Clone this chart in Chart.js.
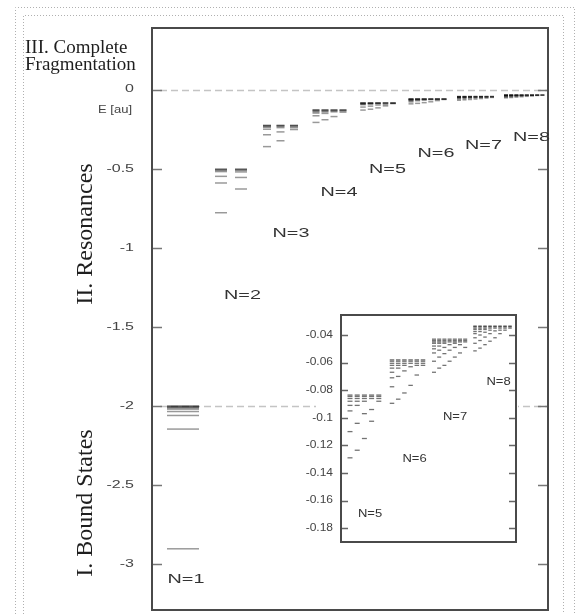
<!DOCTYPE html>
<html>
<head>
<meta charset="utf-8">
<script src="https://cdn.jsdelivr.net/npm/chart.js@4.4.1/dist/chart.umd.min.js"></script>
<style>
    html, body { margin: 0; padding: 0; background: #fff; }
    #wrap { position: relative; width: 577px; height: 614px; overflow: hidden; }
    #main { position: absolute; left: 0; top: 0; }
    #inset { position: absolute; left: 296px; top: 305px; }
</style>
</head>
<body>
<div id="wrap">
    <canvas id="main" width="577" height="614"></canvas>
    <canvas id="inset" width="226" height="245"></canvas>
</div>
<script>
// helium levels in atomic units, one inner array per column of each shell
const shellNames = ["N=1", "N=2", "N=3", "N=4", "N=5", "N=6", "N=7", "N=8"];

const levelsN1 = [[-2.0, -2.003, -2.007, -2.012, -2.02, -2.035, -2.06, -2.146, -2.903]];
const levelsN2 = [
    [-0.502, -0.505, -0.51, -0.518, -0.548, -0.59, -0.778],
    [-0.502, -0.505, -0.51, -0.52, -0.555, -0.628],
];
const levelsN3 = [
    [-0.225, -0.228, -0.232, -0.238, -0.25, -0.285, -0.36],
    [-0.225, -0.228, -0.232, -0.24, -0.267, -0.323],
    [-0.225, -0.228, -0.232, -0.24, -0.252],
];
const levelsN4 = [
    [-0.127, -0.13, -0.134, -0.14, -0.148, -0.165, -0.207],
    [-0.127, -0.13, -0.134, -0.14, -0.15, -0.19],
    [-0.127, -0.13, -0.134, -0.14, -0.17],
    [-0.127, -0.13, -0.134, -0.142],
];
const levelsN5 = [
    [-0.0835, -0.0845, -0.086, -0.088, -0.091, -0.095, -0.11, -0.129],
    [-0.0835, -0.0845, -0.086, -0.088, -0.091, -0.104, -0.1235],
    [-0.0835, -0.0845, -0.086, -0.088, -0.097, -0.115],
    [-0.0835, -0.0845, -0.086, -0.094, -0.1025],
    [-0.0835, -0.0845, -0.086, -0.088],
];
const levelsN6 = [
    [-0.058, -0.059, -0.0605, -0.062, -0.064, -0.067, -0.071, -0.0775, -0.0895],
    [-0.058, -0.059, -0.0605, -0.062, -0.064, -0.07, -0.0865],
    [-0.058, -0.059, -0.0605, -0.062, -0.066, -0.082],
    [-0.058, -0.059, -0.0605, -0.063, -0.0765],
    [-0.058, -0.059, -0.0605, -0.062, -0.069],
    [-0.058, -0.059, -0.0605, -0.062],
];
const levelsN7 = [
    [-0.043, -0.044, -0.045, -0.046, -0.048, -0.05, -0.053, -0.059, -0.067],
    [-0.043, -0.044, -0.045, -0.046, -0.048, -0.051, -0.056, -0.064],
    [-0.043, -0.044, -0.045, -0.046, -0.049, -0.0535, -0.062],
    [-0.043, -0.044, -0.045, -0.047, -0.051, -0.059],
    [-0.043, -0.044, -0.045, -0.046, -0.049, -0.056],
    [-0.043, -0.044, -0.045, -0.047, -0.053],
    [-0.043, -0.044, -0.045, -0.049],
];
const levelsN8 = [
    [-0.0335, -0.034, -0.035, -0.036, -0.0375, -0.039, -0.042, -0.046, -0.0515],
    [-0.0335, -0.034, -0.035, -0.036, -0.0375, -0.04, -0.044, -0.0495],
    [-0.0335, -0.034, -0.035, -0.036, -0.038, -0.0415, -0.047],
    [-0.0335, -0.034, -0.035, -0.0365, -0.039, -0.0445],
    [-0.0335, -0.034, -0.035, -0.037, -0.042],
    [-0.0335, -0.034, -0.035, -0.0365, -0.039],
    [-0.0335, -0.034, -0.035, -0.0365],
    [-0.0335, -0.034, -0.035],
];
const allLevels = [levelsN1, levelsN2, levelsN3, levelsN4, levelsN5, levelsN6, levelsN7, levelsN8];

const thresholdLines = [0, -2];
const mainTicks = [0, -0.5, -1, -1.5, -2, -2.5, -3];
const mainTickLabels = ["0", "-0.5", "-1", "-1.5", "-2", "-2.5", "-3"];
const insetTicks = [-0.04, -0.06, -0.08, -0.1, -0.12, -0.14, -0.16, -0.18];
const insetTickLabels = ["-0.04", "-0.06", "-0.08", "-0.1", "-0.12", "-0.14", "-0.16", "-0.18"];

// layout: where each shell's columns sit, and where its label goes
const mainCols = [
    { x0: 31, dx: 0, w: 32, lx: 34, ly: -3.097 },
    { x0: 69, dx: 20, w: 12, lx: 90.5, ly: -1.302 },
    { x0: 115, dx: 13.5, w: 8, lx: 139, ly: -0.91 },
    { x0: 164, dx: 9, w: 7, lx: 187, ly: -0.651 },
    { x0: 211, dx: 7.5, w: 5.5, lx: 235.5, ly: -0.506 },
    { x0: 259, dx: 6.6, w: 5, lx: 284, ly: -0.405 },
    { x0: 307, dx: 5.5, w: 4, lx: 331.5, ly: -0.354 },
    { x0: 354, dx: 5.2, w: 4, lx: 379.5, ly: -0.303 },
];
const insetShells = [4, 5, 6, 7];
const insetCols = [
    { x0: 9, dx: 7.2, w: 5, lx: 29, ly: -0.17 },
    { x0: 51, dx: 6.2, w: 4.5, lx: 73.5, ly: -0.13 },
    { x0: 93, dx: 5.2, w: 4, lx: 114, ly: -0.0995 },
    { x0: 134, dx: 5, w: 3.5, lx: 157.5, ly: -0.0741 },
];

function makeSets(shells, layout, color, lw) {
    return shells.map((n, k) => {
        const g = layout[k];
        const pts = [];
        allLevels[n].forEach((col, c) => {
            col.forEach((e) => pts.push({ x: g.x0 + c * g.dx, y: e }));
        });
        return {
            label: shellNames[n],
            data: pts,
            pointStyle: "line",
            pointRadius: g.w / 2,
            pointHoverRadius: g.w / 2,
            borderColor: color,
            pointBorderColor: color,
            pointBorderWidth: lw,
            borderWidth: lw,
        };
    });
}

function wideText(ctx, text, x, y, align, sx) {
    ctx.save();
    ctx.translate(x, y);
    ctx.scale(sx, 1);
    ctx.textAlign = align;
    ctx.fillText(text, 0, 0);
    ctx.restore();
}

function dottedRect(ctx, l, t, r, b) {
    ctx.beginPath();
    ctx.moveTo(l, b);
    ctx.lineTo(l, t);
    ctx.lineTo(r, t);
    ctx.lineTo(r, b);
    ctx.stroke();
}

const mainDecor = {
    id: "mainDecor",
    beforeDatasetsDraw(chart) {
        const { ctx, chartArea: a, scales } = chart;
        ctx.save();
        ctx.strokeStyle = "#c4c4c4";
        ctx.lineWidth = 1.5;
        ctx.setLineDash([7, 4]);
        thresholdLines.forEach((v) => {
            const py = Math.round(scales.y.getPixelForValue(v)) + 0.5;
            ctx.beginPath();
            ctx.moveTo(a.left + 8, py);
            ctx.lineTo(a.right, py);
            ctx.stroke();
        });
        ctx.restore();
    },
    afterDraw(chart) {
        const { ctx, chartArea: a, scales } = chart;
        ctx.save();

        // page frames
        ctx.strokeStyle = "#b0b0b0";
        ctx.lineWidth = 1;
        ctx.setLineDash([1, 2]);
        dottedRect(ctx, 15.5, 7.5, 574.5, 620);
        dottedRect(ctx, 23.5, 15.5, 563.5, 620);
        ctx.setLineDash([]);

        // ticks, inward on both sides
        ctx.strokeStyle = "#777";
        ctx.lineWidth = 1.5;
        mainTicks.forEach((v) => {
            const py = Math.round(scales.y.getPixelForValue(v)) + 0.5;
            ctx.beginPath();
            ctx.moveTo(a.left, py);
            ctx.lineTo(a.left + 10, py);
            ctx.moveTo(a.right - 10, py);
            ctx.lineTo(a.right, py);
            ctx.stroke();
        });

        ctx.strokeStyle = "#4a4a4a";
        ctx.lineWidth = 2;
        ctx.strokeRect(a.left, a.top, a.right - a.left, a.bottom - a.top);

        ctx.fillStyle = "#444";
        ctx.textBaseline = "middle";
        ctx.font = "10px 'Liberation Sans', Arial, sans-serif";
        mainTicks.forEach((v, i) => {
            wideText(ctx, mainTickLabels[i], 134, scales.y.getPixelForValue(v), "right", 1.6);
        });
        wideText(ctx, "E [au]", 132, 110, "right", 1.3);

        ctx.fillStyle = "#333";
        ctx.font = "12px 'Liberation Sans', Arial, sans-serif";
        mainCols.forEach((g, n) => {
            wideText(ctx, shellNames[n], scales.x.getPixelForValue(g.lx), scales.y.getPixelForValue(g.ly), "center", 1.65);
        });

        ctx.fillStyle = "#1e1e1e";
        ctx.font = "19px 'Liberation Serif', 'Times New Roman', serif";
        ctx.textAlign = "left";
        ctx.textBaseline = "alphabetic";
        ctx.fillText("III. Complete", 25, 53);
        ctx.fillText("Fragmentation", 25, 70);

        ctx.font = "24px 'Liberation Serif', 'Times New Roman', serif";
        ctx.textAlign = "center";
        ctx.textBaseline = "middle";
        [["II. Resonances", 234], ["I. Bound States", 503]].forEach(([t, cy]) => {
            ctx.save();
            ctx.translate(86, cy);
            ctx.rotate(-Math.PI / 2);
            ctx.fillText(t, 0, 0);
            ctx.restore();
        });
        ctx.restore();
    },
};

const insetDecor = {
    id: "insetDecor",
    beforeDraw(chart) {
        const { ctx } = chart;
        ctx.save();
        ctx.fillStyle = "#fff";
        ctx.fillRect(20, 3, 202, 240);
        ctx.restore();
    },
    afterDraw(chart) {
        const { ctx, chartArea: a, scales } = chart;
        ctx.save();
        ctx.strokeStyle = "#666";
        ctx.lineWidth = 1.5;
        insetTicks.forEach((v) => {
            const py = Math.round(scales.y.getPixelForValue(v)) + 0.5;
            ctx.beginPath();
            ctx.moveTo(a.left, py);
            ctx.lineTo(a.left + 7, py);
            ctx.moveTo(a.right - 7, py);
            ctx.lineTo(a.right, py);
            ctx.stroke();
        });
        ctx.strokeStyle = "#4a4a4a";
        ctx.lineWidth = 2;
        ctx.strokeRect(a.left, a.top, a.right - a.left, a.bottom - a.top);

        ctx.fillStyle = "#444";
        ctx.textBaseline = "middle";
        ctx.font = "10px 'Liberation Sans', Arial, sans-serif";
        insetTicks.forEach((v, i) => {
            wideText(ctx, insetTickLabels[i], 37, scales.y.getPixelForValue(v), "right", 1.2);
        });
        ctx.fillStyle = "#333";
        insetCols.forEach((g, k) => {
            wideText(ctx, shellNames[insetShells[k]], scales.x.getPixelForValue(g.lx), scales.y.getPixelForValue(g.ly), "center", 1.3);
        });
        ctx.restore();
    },
};

new Chart(document.getElementById("main"), {
    type: "scatter",
    data: { datasets: makeSets([0, 1, 2, 3, 4, 5, 6, 7], mainCols, "rgba(0,0,0,0.4)", 1.5) },
    options: {
        responsive: false,
        animation: false,
        layout: { autoPadding: false, padding: { left: 152, top: 28, right: 29, bottom: 4 } },
        plugins: { legend: { display: false }, tooltip: { enabled: false } },
        scales: {
            x: { type: "linear", min: 0, max: 396, display: false },
            y: { type: "linear", min: -3.29, max: 0.39, display: false },
        },
    },
    plugins: [mainDecor],
});

new Chart(document.getElementById("inset"), {
    type: "scatter",
    data: { datasets: makeSets(insetShells, insetCols, "rgba(0,0,0,0.55)", 1.3) },
    options: {
        responsive: false,
        animation: false,
        layout: { autoPadding: false, padding: { left: 45, top: 10, right: 6, bottom: 8 } },
        plugins: { legend: { display: false }, tooltip: { enabled: false } },
        scales: {
            x: { type: "linear", min: 0, max: 175, display: false },
            y: { type: "linear", min: -0.19, max: -0.0255, display: false },
        },
    },
    plugins: [insetDecor],
});
</script>
</body>
</html>
